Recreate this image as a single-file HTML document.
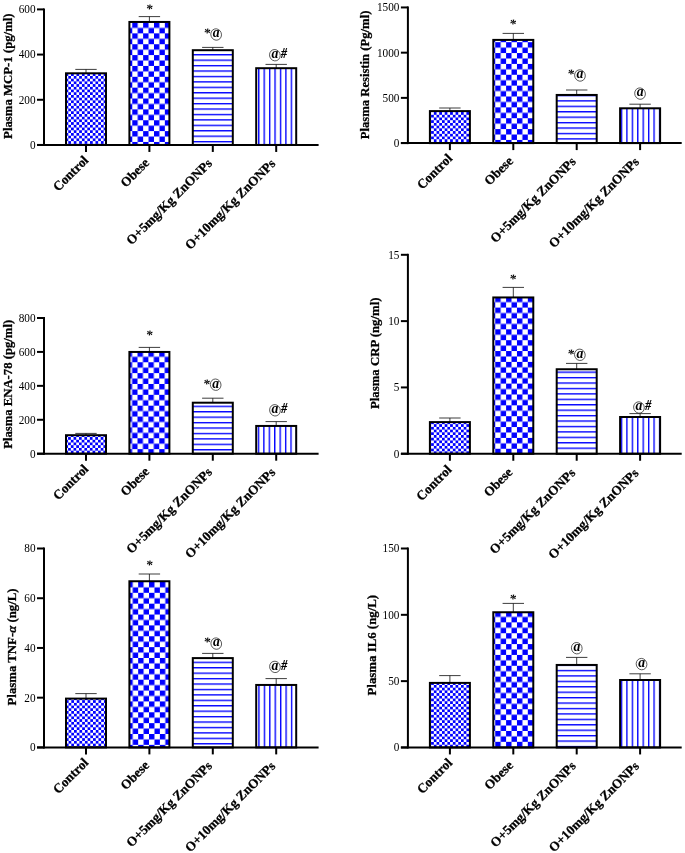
<!DOCTYPE html>
<html><head><meta charset="utf-8"><title>Figure</title>
<style>html,body{margin:0;padding:0;background:#fff}svg{display:block;will-change:transform;font-family:"Liberation Serif",serif;fill:#000}</style></head>
<body>
<svg width="685" height="853" viewBox="0 0 685 853">
<defs><pattern id="p0_0" patternUnits="userSpaceOnUse" x="65.6" y="73.26" width="5.43" height="5.43"><rect width="5.43" height="5.43" fill="#fff"/><rect width="2.71" height="2.71" fill="#00f"/><rect x="2.71" y="2.71" width="2.71" height="2.71" fill="#00f"/></pattern><pattern id="p0_1" patternUnits="userSpaceOnUse" x="132.27" y="22.5" width="10.86" height="10.86"><rect width="10.86" height="10.86" fill="#fff"/><rect width="5.43" height="5.43" fill="#00f"/><rect x="5.43" y="5.43" width="5.43" height="5.43" fill="#00f"/></pattern><pattern id="p0_2" patternUnits="userSpaceOnUse" x="0" y="54.08" width="5.43" height="5.43"><rect width="5.43" height="5.43" fill="#fff"/><rect width="5.43" height="1.36" fill="#00f"/></pattern><pattern id="p0_3" patternUnits="userSpaceOnUse" x="258.09" y="0" width="5.43" height="5.43"><rect width="5.43" height="5.43" fill="#fff"/><rect width="1.36" height="5.43" fill="#00f"/></pattern><pattern id="p1_0" patternUnits="userSpaceOnUse" x="428.39" y="112.08" width="5.43" height="5.43"><rect width="5.43" height="5.43" fill="#fff"/><rect width="2.71" height="2.71" fill="#00f"/><rect x="2.71" y="2.71" width="2.71" height="2.71" fill="#00f"/></pattern><pattern id="p1_1" patternUnits="userSpaceOnUse" x="495.24" y="42.2" width="10.86" height="10.86"><rect width="10.86" height="10.86" fill="#fff"/><rect width="5.43" height="5.43" fill="#00f"/><rect x="5.43" y="5.43" width="5.43" height="5.43" fill="#00f"/></pattern><pattern id="p1_2" patternUnits="userSpaceOnUse" x="0" y="100.23" width="5.43" height="5.43"><rect width="5.43" height="5.43" fill="#fff"/><rect width="5.43" height="1.36" fill="#00f"/></pattern><pattern id="p1_3" patternUnits="userSpaceOnUse" x="620.82" y="0" width="5.43" height="5.43"><rect width="5.43" height="5.43" fill="#fff"/><rect width="1.36" height="5.43" fill="#00f"/></pattern><pattern id="p2_0" patternUnits="userSpaceOnUse" x="68.1" y="437.06" width="5.43" height="5.43"><rect width="5.43" height="5.43" fill="#fff"/><rect width="2.71" height="2.71" fill="#00f"/><rect x="2.71" y="2.71" width="2.71" height="2.71" fill="#00f"/></pattern><pattern id="p2_1" patternUnits="userSpaceOnUse" x="137.51" y="351.39" width="10.86" height="10.86"><rect width="10.86" height="10.86" fill="#fff"/><rect width="5.43" height="5.43" fill="#00f"/><rect x="5.43" y="5.43" width="5.43" height="5.43" fill="#00f"/></pattern><pattern id="p2_2" patternUnits="userSpaceOnUse" x="0" y="405.65" width="5.43" height="5.43"><rect width="5.43" height="5.43" fill="#fff"/><rect width="5.43" height="1.36" fill="#00f"/></pattern><pattern id="p2_3" patternUnits="userSpaceOnUse" x="257.78" y="0" width="5.43" height="5.43"><rect width="5.43" height="5.43" fill="#fff"/><rect width="1.36" height="5.43" fill="#00f"/></pattern><pattern id="p3_0" patternUnits="userSpaceOnUse" x="428.39" y="424.17" width="5.43" height="5.43"><rect width="5.43" height="5.43" fill="#fff"/><rect width="2.71" height="2.71" fill="#00f"/><rect x="2.71" y="2.71" width="2.71" height="2.71" fill="#00f"/></pattern><pattern id="p3_1" patternUnits="userSpaceOnUse" x="495.24" y="296.74" width="10.86" height="10.86"><rect width="10.86" height="10.86" fill="#fff"/><rect width="5.43" height="5.43" fill="#00f"/><rect x="5.43" y="5.43" width="5.43" height="5.43" fill="#00f"/></pattern><pattern id="p3_2" patternUnits="userSpaceOnUse" x="0" y="371.51" width="5.43" height="5.43"><rect width="5.43" height="5.43" fill="#fff"/><rect width="5.43" height="1.36" fill="#00f"/></pattern><pattern id="p3_3" patternUnits="userSpaceOnUse" x="620.82" y="0" width="5.43" height="5.43"><rect width="5.43" height="5.43" fill="#fff"/><rect width="1.36" height="5.43" fill="#00f"/></pattern><pattern id="p4_0" patternUnits="userSpaceOnUse" x="65.88" y="700.17" width="5.43" height="5.43"><rect width="5.43" height="5.43" fill="#fff"/><rect width="2.71" height="2.71" fill="#00f"/><rect x="2.71" y="2.71" width="2.71" height="2.71" fill="#00f"/></pattern><pattern id="p4_1" patternUnits="userSpaceOnUse" x="138.16" y="581.96" width="10.86" height="10.86"><rect width="10.86" height="10.86" fill="#fff"/><rect width="5.43" height="5.43" fill="#00f"/><rect x="5.43" y="5.43" width="5.43" height="5.43" fill="#00f"/></pattern><pattern id="p4_2" patternUnits="userSpaceOnUse" x="0" y="661.65" width="5.43" height="5.43"><rect width="5.43" height="5.43" fill="#fff"/><rect width="5.43" height="1.36" fill="#00f"/></pattern><pattern id="p4_3" patternUnits="userSpaceOnUse" x="258.28" y="0" width="5.43" height="5.43"><rect width="5.43" height="5.43" fill="#fff"/><rect width="1.36" height="5.43" fill="#00f"/></pattern><pattern id="p5_0" patternUnits="userSpaceOnUse" x="428.39" y="684.97" width="5.43" height="5.43"><rect width="5.43" height="5.43" fill="#fff"/><rect width="2.71" height="2.71" fill="#00f"/><rect x="2.71" y="2.71" width="2.71" height="2.71" fill="#00f"/></pattern><pattern id="p5_1" patternUnits="userSpaceOnUse" x="495.24" y="611.5" width="10.86" height="10.86"><rect width="10.86" height="10.86" fill="#fff"/><rect width="5.43" height="5.43" fill="#00f"/><rect x="5.43" y="5.43" width="5.43" height="5.43" fill="#00f"/></pattern><pattern id="p5_2" patternUnits="userSpaceOnUse" x="0" y="669.83" width="5.43" height="5.43"><rect width="5.43" height="5.43" fill="#fff"/><rect width="5.43" height="1.36" fill="#00f"/></pattern><pattern id="p5_3" patternUnits="userSpaceOnUse" x="620.82" y="0" width="5.43" height="5.43"><rect width="5.43" height="5.43" fill="#fff"/><rect width="1.36" height="5.43" fill="#00f"/></pattern></defs>
<rect width="685" height="853" fill="#fff"/>
<path d="M75.3 69.4 H96.7 M86 69.4 V73.3" stroke="#1a1a1a" stroke-width="0.85" fill="none"/>
<rect x="66" y="73.3" width="40" height="71.65" fill="url(#p0_0)" stroke="#000" stroke-width="2"/>
<path d="M86 144.95 V151.95" stroke="#000" stroke-width="2"/>
<text transform="translate(89.14 161.05) rotate(-45)" font-size="13.2" font-weight="bold" text-anchor="end" stroke="#000" stroke-width="0.28" stroke-linejoin="round">Control</text>
<path d="M138.7 16.6 H160.1 M149.4 16.6 V21.95" stroke="#1a1a1a" stroke-width="0.85" fill="none"/>
<rect x="129.4" y="21.95" width="40" height="123" fill="url(#p0_1)" stroke="#000" stroke-width="2"/>
<text x="145.8" y="13" font-size="13.5" font-weight="bold" font-style="italic">*</text>
<path d="M149.4 144.95 V151.95" stroke="#000" stroke-width="2"/>
<text transform="translate(149.99 163.6) rotate(-45)" font-size="13.2" font-weight="bold" text-anchor="end" stroke="#000" stroke-width="0.28" stroke-linejoin="round">Obese</text>
<path d="M202.1 47.4 H223.5 M212.8 47.4 V50.2" stroke="#1a1a1a" stroke-width="0.85" fill="none"/>
<rect x="192.8" y="50.2" width="40" height="94.75" fill="url(#p0_2)" stroke="#000" stroke-width="2"/>
<text x="203.5" y="37.3" font-size="13.5" font-weight="bold" font-style="italic">*</text><ellipse cx="216.15" cy="34.5" rx="5.3" ry="5.75" fill="none" stroke="#2a2a2a" stroke-width="0.7" transform="rotate(-20 216.15 34.5)"/><text x="212.8" y="37.3" font-size="13.7" font-weight="bold" font-style="italic">a</text>
<path d="M212.8 144.95 V151.95" stroke="#000" stroke-width="2"/>
<text transform="translate(212.79 164.2) rotate(-45)" font-size="13.2" font-weight="bold" text-anchor="end" stroke="#000" stroke-width="0.28" stroke-linejoin="round">O+5mg/Kg ZnONPs</text>
<path d="M265.5 64.4 H286.9 M276.2 64.4 V68.2" stroke="#1a1a1a" stroke-width="0.85" fill="none"/>
<rect x="256.2" y="68.2" width="40" height="76.75" fill="url(#p0_3)" stroke="#000" stroke-width="2"/>
<ellipse cx="274.85" cy="55.2" rx="5.3" ry="5.75" fill="none" stroke="#2a2a2a" stroke-width="0.7" transform="rotate(-20 274.85 55.2)"/><text x="271.5" y="58" font-size="13.7" font-weight="bold" font-style="italic">a</text><text transform="translate(281.1 58) scale(0.88 1.04)" font-size="13.5" font-weight="bold" font-style="italic" stroke="#000" stroke-width="0.2">#</text>
<path d="M276.2 144.95 V151.95" stroke="#000" stroke-width="2"/>
<text transform="translate(276.02 164.37) rotate(-45)" font-size="13.2" font-weight="bold" text-anchor="end" stroke="#000" stroke-width="0.28" stroke-linejoin="round">O+10mg/Kg ZnONPs</text>
<path d="M44 8.4 V145.95" stroke="#000" stroke-width="2" fill="none"/>
<path d="M37 144.95 H318.6" stroke="#000" stroke-width="2" fill="none"/>
<path d="M37 144.95 H44" stroke="#000" stroke-width="2"/>
<text transform="translate(35.55 148.82) scale(0.9 1)" font-size="12.5" text-anchor="end">0</text>
<path d="M37 99.77 H44" stroke="#000" stroke-width="2"/>
<text transform="translate(35.55 103.64) scale(0.9 1)" font-size="12.5" text-anchor="end">200</text>
<path d="M37 54.58 H44" stroke="#000" stroke-width="2"/>
<text transform="translate(35.55 58.46) scale(0.9 1)" font-size="12.5" text-anchor="end">400</text>
<path d="M37 9.4 H44" stroke="#000" stroke-width="2"/>
<text transform="translate(35.55 13.28) scale(0.9 1)" font-size="12.5" text-anchor="end">600</text>
<text transform="translate(11.8 76.17) rotate(-90)" font-size="12.78" font-weight="bold" text-anchor="middle" stroke="#000" stroke-width="0.28" stroke-linejoin="round">Plasma MCP-1 (pg/ml)</text>
<path d="M439.2 108 H460.6 M449.9 108 V111.1" stroke="#1a1a1a" stroke-width="0.85" fill="none"/>
<rect x="429.9" y="111.1" width="40" height="32" fill="url(#p1_0)" stroke="#000" stroke-width="2"/>
<path d="M449.9 143.1 V150.1" stroke="#000" stroke-width="2"/>
<text transform="translate(453.04 159.2) rotate(-45)" font-size="13.2" font-weight="bold" text-anchor="end" stroke="#000" stroke-width="0.28" stroke-linejoin="round">Control</text>
<path d="M502.6 33.4 H524 M513.3 33.4 V39.9" stroke="#1a1a1a" stroke-width="0.85" fill="none"/>
<rect x="493.3" y="39.9" width="40" height="103.2" fill="url(#p1_1)" stroke="#000" stroke-width="2"/>
<text x="509.2" y="28.4" font-size="13.5" font-weight="bold" font-style="italic">*</text>
<path d="M513.3 143.1 V150.1" stroke="#000" stroke-width="2"/>
<text transform="translate(513.89 161.75) rotate(-45)" font-size="13.2" font-weight="bold" text-anchor="end" stroke="#000" stroke-width="0.28" stroke-linejoin="round">Obese</text>
<path d="M566 90 H587.4 M576.7 90 V94.95" stroke="#1a1a1a" stroke-width="0.85" fill="none"/>
<rect x="556.7" y="94.95" width="40" height="48.15" fill="url(#p1_2)" stroke="#000" stroke-width="2"/>
<text x="567.3" y="78.3" font-size="13.5" font-weight="bold" font-style="italic">*</text><ellipse cx="579.95" cy="75.5" rx="5.3" ry="5.75" fill="none" stroke="#2a2a2a" stroke-width="0.7" transform="rotate(-20 579.95 75.5)"/><text x="576.6" y="78.3" font-size="13.7" font-weight="bold" font-style="italic">a</text>
<path d="M576.7 143.1 V150.1" stroke="#000" stroke-width="2"/>
<text transform="translate(576.69 162.35) rotate(-45)" font-size="13.2" font-weight="bold" text-anchor="end" stroke="#000" stroke-width="0.28" stroke-linejoin="round">O+5mg/Kg ZnONPs</text>
<path d="M629.4 104.2 H650.8 M640.1 104.2 V108.3" stroke="#1a1a1a" stroke-width="0.85" fill="none"/>
<rect x="620.1" y="108.3" width="40" height="34.8" fill="url(#p1_3)" stroke="#000" stroke-width="2"/>
<ellipse cx="640.05" cy="93.6" rx="5.3" ry="5.75" fill="none" stroke="#2a2a2a" stroke-width="0.7" transform="rotate(-20 640.05 93.6)"/><text x="636.7" y="96.4" font-size="13.7" font-weight="bold" font-style="italic">a</text>
<path d="M640.1 143.1 V150.1" stroke="#000" stroke-width="2"/>
<text transform="translate(639.92 162.52) rotate(-45)" font-size="13.2" font-weight="bold" text-anchor="end" stroke="#000" stroke-width="0.28" stroke-linejoin="round">O+10mg/Kg ZnONPs</text>
<path d="M407.9 6.45 V144.1" stroke="#000" stroke-width="2" fill="none"/>
<path d="M400.9 143.1 H681.7" stroke="#000" stroke-width="2" fill="none"/>
<path d="M400.9 143.1 H407.9" stroke="#000" stroke-width="2"/>
<text transform="translate(399.45 146.97) scale(0.9 1)" font-size="12.5" text-anchor="end">0</text>
<path d="M400.9 97.88 H407.9" stroke="#000" stroke-width="2"/>
<text transform="translate(399.45 101.76) scale(0.9 1)" font-size="12.5" text-anchor="end">500</text>
<path d="M400.9 52.67 H407.9" stroke="#000" stroke-width="2"/>
<text transform="translate(399.45 56.54) scale(0.9 1)" font-size="12.5" text-anchor="end">1000</text>
<path d="M400.9 7.45 H407.9" stroke="#000" stroke-width="2"/>
<text transform="translate(399.45 11.32) scale(0.9 1)" font-size="12.5" text-anchor="end">1500</text>
<text transform="translate(368.8 74.97) rotate(-90)" font-size="12.66" font-weight="bold" text-anchor="middle" stroke="#000" stroke-width="0.28" stroke-linejoin="round">Plasma Resistin (Pg/ml)</text>
<path d="M75.3 433.4 H96.7 M86 433.4 V435.2" stroke="#1a1a1a" stroke-width="0.85" fill="none"/>
<rect x="66" y="435.2" width="40" height="18.5" fill="url(#p2_0)" stroke="#000" stroke-width="2"/>
<path d="M86 453.7 V460.7" stroke="#000" stroke-width="2"/>
<text transform="translate(89.14 469.8) rotate(-45)" font-size="13.2" font-weight="bold" text-anchor="end" stroke="#000" stroke-width="0.28" stroke-linejoin="round">Control</text>
<path d="M138.7 347.4 H160.1 M149.4 347.4 V351.95" stroke="#1a1a1a" stroke-width="0.85" fill="none"/>
<rect x="129.4" y="351.95" width="40" height="101.75" fill="url(#p2_1)" stroke="#000" stroke-width="2"/>
<text x="145.8" y="338.6" font-size="13.5" font-weight="bold" font-style="italic">*</text>
<path d="M149.4 453.7 V460.7" stroke="#000" stroke-width="2"/>
<text transform="translate(149.99 472.35) rotate(-45)" font-size="13.2" font-weight="bold" text-anchor="end" stroke="#000" stroke-width="0.28" stroke-linejoin="round">Obese</text>
<path d="M202.1 398.2 H223.5 M212.8 398.2 V402.7" stroke="#1a1a1a" stroke-width="0.85" fill="none"/>
<rect x="192.8" y="402.7" width="40" height="51" fill="url(#p2_2)" stroke="#000" stroke-width="2"/>
<text x="203" y="387.5" font-size="13.5" font-weight="bold" font-style="italic">*</text><ellipse cx="215.65" cy="384.7" rx="5.3" ry="5.75" fill="none" stroke="#2a2a2a" stroke-width="0.7" transform="rotate(-20 215.65 384.7)"/><text x="212.3" y="387.5" font-size="13.7" font-weight="bold" font-style="italic">a</text>
<path d="M212.8 453.7 V460.7" stroke="#000" stroke-width="2"/>
<text transform="translate(212.79 472.95) rotate(-45)" font-size="13.2" font-weight="bold" text-anchor="end" stroke="#000" stroke-width="0.28" stroke-linejoin="round">O+5mg/Kg ZnONPs</text>
<path d="M265.5 421.6 H286.9 M276.2 421.6 V425.95" stroke="#1a1a1a" stroke-width="0.85" fill="none"/>
<rect x="256.2" y="425.95" width="40" height="27.75" fill="url(#p2_3)" stroke="#000" stroke-width="2"/>
<ellipse cx="274.95" cy="410.3" rx="5.3" ry="5.75" fill="none" stroke="#2a2a2a" stroke-width="0.7" transform="rotate(-20 274.95 410.3)"/><text x="271.6" y="413.1" font-size="13.7" font-weight="bold" font-style="italic">a</text><text transform="translate(281.2 413.1) scale(0.88 1.04)" font-size="13.5" font-weight="bold" font-style="italic" stroke="#000" stroke-width="0.2">#</text>
<path d="M276.2 453.7 V460.7" stroke="#000" stroke-width="2"/>
<text transform="translate(276.02 473.12) rotate(-45)" font-size="13.2" font-weight="bold" text-anchor="end" stroke="#000" stroke-width="0.28" stroke-linejoin="round">O+10mg/Kg ZnONPs</text>
<path d="M44 317 V454.7" stroke="#000" stroke-width="2" fill="none"/>
<path d="M37 453.7 H318.6" stroke="#000" stroke-width="2" fill="none"/>
<path d="M37 453.7 H44" stroke="#000" stroke-width="2"/>
<text transform="translate(35.55 457.57) scale(0.9 1)" font-size="12.5" text-anchor="end">0</text>
<path d="M37 419.77 H44" stroke="#000" stroke-width="2"/>
<text transform="translate(35.55 423.65) scale(0.9 1)" font-size="12.5" text-anchor="end">200</text>
<path d="M37 385.85 H44" stroke="#000" stroke-width="2"/>
<text transform="translate(35.55 389.73) scale(0.9 1)" font-size="12.5" text-anchor="end">400</text>
<path d="M37 351.92 H44" stroke="#000" stroke-width="2"/>
<text transform="translate(35.55 355.8) scale(0.9 1)" font-size="12.5" text-anchor="end">600</text>
<path d="M37 318 H44" stroke="#000" stroke-width="2"/>
<text transform="translate(35.55 321.88) scale(0.9 1)" font-size="12.5" text-anchor="end">800</text>
<text transform="translate(11.8 384.35) rotate(-90)" font-size="12.7" font-weight="bold" text-anchor="middle" stroke="#000" stroke-width="0.28" stroke-linejoin="round">Plasma ENA-78 (pg/ml)</text>
<path d="M439.2 418 H460.6 M449.9 418 V422.1" stroke="#1a1a1a" stroke-width="0.85" fill="none"/>
<rect x="429.9" y="422.1" width="40" height="31.65" fill="url(#p3_0)" stroke="#000" stroke-width="2"/>
<path d="M449.9 453.75 V460.75" stroke="#000" stroke-width="2"/>
<text transform="translate(452.4 470.49) rotate(-45)" font-size="13.2" font-weight="bold" text-anchor="end" stroke="#000" stroke-width="0.28" stroke-linejoin="round">Control</text>
<path d="M502.6 287.4 H524 M513.3 287.4 V297.45" stroke="#1a1a1a" stroke-width="0.85" fill="none"/>
<rect x="493.3" y="297.45" width="40" height="156.3" fill="url(#p3_1)" stroke="#000" stroke-width="2"/>
<text x="509.3" y="283.2" font-size="13.5" font-weight="bold" font-style="italic">*</text>
<path d="M513.3 453.75 V460.75" stroke="#000" stroke-width="2"/>
<text transform="translate(513.26 473.03) rotate(-45)" font-size="13.2" font-weight="bold" text-anchor="end" stroke="#000" stroke-width="0.28" stroke-linejoin="round">Obese</text>
<path d="M566 363.4 H587.4 M576.7 363.4 V369.25" stroke="#1a1a1a" stroke-width="0.85" fill="none"/>
<rect x="556.7" y="369.25" width="40" height="84.5" fill="url(#p3_2)" stroke="#000" stroke-width="2"/>
<text x="567.2" y="357.6" font-size="13.5" font-weight="bold" font-style="italic">*</text><ellipse cx="579.85" cy="354.8" rx="5.3" ry="5.75" fill="none" stroke="#2a2a2a" stroke-width="0.7" transform="rotate(-20 579.85 354.8)"/><text x="576.5" y="357.6" font-size="13.7" font-weight="bold" font-style="italic">a</text>
<path d="M576.7 453.75 V460.75" stroke="#000" stroke-width="2"/>
<text transform="translate(576.06 473.63) rotate(-45)" font-size="13.2" font-weight="bold" text-anchor="end" stroke="#000" stroke-width="0.28" stroke-linejoin="round">O+5mg/Kg ZnONPs</text>
<path d="M629.4 413.6 H650.8 M640.1 413.6 V417" stroke="#1a1a1a" stroke-width="0.85" fill="none"/>
<rect x="620.1" y="417" width="40" height="36.75" fill="url(#p3_3)" stroke="#000" stroke-width="2"/>
<ellipse cx="638.95" cy="407.5" rx="5.3" ry="5.75" fill="none" stroke="#2a2a2a" stroke-width="0.7" transform="rotate(-20 638.95 407.5)"/><text x="635.6" y="410.3" font-size="13.7" font-weight="bold" font-style="italic">a</text><text transform="translate(645.2 410.3) scale(0.88 1.04)" font-size="13.5" font-weight="bold" font-style="italic" stroke="#000" stroke-width="0.2">#</text>
<path d="M640.1 453.75 V460.75" stroke="#000" stroke-width="2"/>
<text transform="translate(639.28 473.81) rotate(-45)" font-size="13.2" font-weight="bold" text-anchor="end" stroke="#000" stroke-width="0.28" stroke-linejoin="round">O+10mg/Kg ZnONPs</text>
<path d="M407.9 253.8 V454.75" stroke="#000" stroke-width="2" fill="none"/>
<path d="M400.9 453.75 H681.7" stroke="#000" stroke-width="2" fill="none"/>
<path d="M400.9 453.75 H407.9" stroke="#000" stroke-width="2"/>
<text transform="translate(399.45 457.62) scale(0.9 1)" font-size="12.5" text-anchor="end">0</text>
<path d="M400.9 387.43 H407.9" stroke="#000" stroke-width="2"/>
<text transform="translate(399.45 391.31) scale(0.9 1)" font-size="12.5" text-anchor="end">5</text>
<path d="M400.9 321.12 H407.9" stroke="#000" stroke-width="2"/>
<text transform="translate(399.45 324.99) scale(0.9 1)" font-size="12.5" text-anchor="end">10</text>
<path d="M400.9 254.8 H407.9" stroke="#000" stroke-width="2"/>
<text transform="translate(399.45 258.68) scale(0.9 1)" font-size="12.5" text-anchor="end">15</text>
<text transform="translate(378.6 353.27) rotate(-90)" font-size="12.8" font-weight="bold" text-anchor="middle" stroke="#000" stroke-width="0.28" stroke-linejoin="round">Plasma CRP (ng/ml)</text>
<path d="M75.3 693.6 H96.7 M86 693.6 V698.6" stroke="#1a1a1a" stroke-width="0.85" fill="none"/>
<rect x="66" y="698.6" width="40" height="48.8" fill="url(#p4_0)" stroke="#000" stroke-width="2"/>
<path d="M86 747.4 V754.4" stroke="#000" stroke-width="2"/>
<text transform="translate(89.14 763.5) rotate(-45)" font-size="13.2" font-weight="bold" text-anchor="end" stroke="#000" stroke-width="0.28" stroke-linejoin="round">Control</text>
<path d="M138.7 574 H160.1 M149.4 574 V581.25" stroke="#1a1a1a" stroke-width="0.85" fill="none"/>
<rect x="129.4" y="581.25" width="40" height="166.15" fill="url(#p4_1)" stroke="#000" stroke-width="2"/>
<text x="145.8" y="568.6" font-size="13.5" font-weight="bold" font-style="italic">*</text>
<path d="M149.4 747.4 V754.4" stroke="#000" stroke-width="2"/>
<text transform="translate(149.99 766.05) rotate(-45)" font-size="13.2" font-weight="bold" text-anchor="end" stroke="#000" stroke-width="0.28" stroke-linejoin="round">Obese</text>
<path d="M202.1 653.4 H223.5 M212.8 653.4 V658.1" stroke="#1a1a1a" stroke-width="0.85" fill="none"/>
<rect x="192.8" y="658.1" width="40" height="89.3" fill="url(#p4_2)" stroke="#000" stroke-width="2"/>
<text x="203.6" y="646.4" font-size="13.5" font-weight="bold" font-style="italic">*</text><ellipse cx="216.25" cy="643.6" rx="5.3" ry="5.75" fill="none" stroke="#2a2a2a" stroke-width="0.7" transform="rotate(-20 216.25 643.6)"/><text x="212.9" y="646.4" font-size="13.7" font-weight="bold" font-style="italic">a</text>
<path d="M212.8 747.4 V754.4" stroke="#000" stroke-width="2"/>
<text transform="translate(212.79 766.65) rotate(-45)" font-size="13.2" font-weight="bold" text-anchor="end" stroke="#000" stroke-width="0.28" stroke-linejoin="round">O+5mg/Kg ZnONPs</text>
<path d="M265.5 678.6 H286.9 M276.2 678.6 V684.95" stroke="#1a1a1a" stroke-width="0.85" fill="none"/>
<rect x="256.2" y="684.95" width="40" height="62.45" fill="url(#p4_3)" stroke="#000" stroke-width="2"/>
<ellipse cx="274.95" cy="666.9" rx="5.3" ry="5.75" fill="none" stroke="#2a2a2a" stroke-width="0.7" transform="rotate(-20 274.95 666.9)"/><text x="271.6" y="669.7" font-size="13.7" font-weight="bold" font-style="italic">a</text><text transform="translate(281.2 669.7) scale(0.88 1.04)" font-size="13.5" font-weight="bold" font-style="italic" stroke="#000" stroke-width="0.2">#</text>
<path d="M276.2 747.4 V754.4" stroke="#000" stroke-width="2"/>
<text transform="translate(276.02 766.82) rotate(-45)" font-size="13.2" font-weight="bold" text-anchor="end" stroke="#000" stroke-width="0.28" stroke-linejoin="round">O+10mg/Kg ZnONPs</text>
<path d="M44 547.5 V748.4" stroke="#000" stroke-width="2" fill="none"/>
<path d="M37 747.4 H318.6" stroke="#000" stroke-width="2" fill="none"/>
<path d="M37 747.4 H44" stroke="#000" stroke-width="2"/>
<text transform="translate(35.55 751.27) scale(0.9 1)" font-size="12.5" text-anchor="end">0</text>
<path d="M37 697.67 H44" stroke="#000" stroke-width="2"/>
<text transform="translate(35.55 701.55) scale(0.9 1)" font-size="12.5" text-anchor="end">20</text>
<path d="M37 647.95 H44" stroke="#000" stroke-width="2"/>
<text transform="translate(35.55 651.83) scale(0.9 1)" font-size="12.5" text-anchor="end">40</text>
<path d="M37 598.23 H44" stroke="#000" stroke-width="2"/>
<text transform="translate(35.55 602.1) scale(0.9 1)" font-size="12.5" text-anchor="end">60</text>
<path d="M37 548.5 H44" stroke="#000" stroke-width="2"/>
<text transform="translate(35.55 552.38) scale(0.9 1)" font-size="12.5" text-anchor="end">80</text>
<text transform="translate(15.5 646.95) rotate(-90)" font-size="12.8" font-weight="bold" text-anchor="middle" stroke="#000" stroke-width="0.28" stroke-linejoin="round">Plasma TNF-<tspan font-style="italic">α</tspan> (ng/L)</text>
<path d="M439.2 675.6 H460.6 M449.9 675.6 V682.9" stroke="#1a1a1a" stroke-width="0.85" fill="none"/>
<rect x="429.9" y="682.9" width="40" height="64.55" fill="url(#p5_0)" stroke="#000" stroke-width="2"/>
<path d="M449.9 747.45 V754.45" stroke="#000" stroke-width="2"/>
<text transform="translate(453.04 763.55) rotate(-45)" font-size="13.2" font-weight="bold" text-anchor="end" stroke="#000" stroke-width="0.28" stroke-linejoin="round">Control</text>
<path d="M502.6 603.4 H524 M513.3 603.4 V612.25" stroke="#1a1a1a" stroke-width="0.85" fill="none"/>
<rect x="493.3" y="612.25" width="40" height="135.2" fill="url(#p5_1)" stroke="#000" stroke-width="2"/>
<text x="509.3" y="603" font-size="13.5" font-weight="bold" font-style="italic">*</text>
<path d="M513.3 747.45 V754.45" stroke="#000" stroke-width="2"/>
<text transform="translate(513.89 766.1) rotate(-45)" font-size="13.2" font-weight="bold" text-anchor="end" stroke="#000" stroke-width="0.28" stroke-linejoin="round">Obese</text>
<path d="M566 657.4 H587.4 M576.7 657.4 V664.95" stroke="#1a1a1a" stroke-width="0.85" fill="none"/>
<rect x="556.7" y="664.95" width="40" height="82.5" fill="url(#p5_2)" stroke="#000" stroke-width="2"/>
<ellipse cx="576.75" cy="648.2" rx="5.3" ry="5.75" fill="none" stroke="#2a2a2a" stroke-width="0.7" transform="rotate(-20 576.75 648.2)"/><text x="573.4" y="651" font-size="13.7" font-weight="bold" font-style="italic">a</text>
<path d="M576.7 747.45 V754.45" stroke="#000" stroke-width="2"/>
<text transform="translate(576.69 766.7) rotate(-45)" font-size="13.2" font-weight="bold" text-anchor="end" stroke="#000" stroke-width="0.28" stroke-linejoin="round">O+5mg/Kg ZnONPs</text>
<path d="M629.4 673.8 H650.8 M640.1 673.8 V680" stroke="#1a1a1a" stroke-width="0.85" fill="none"/>
<rect x="620.1" y="680" width="40" height="67.45" fill="url(#p5_3)" stroke="#000" stroke-width="2"/>
<ellipse cx="641.55" cy="664.1" rx="5.3" ry="5.75" fill="none" stroke="#2a2a2a" stroke-width="0.7" transform="rotate(-20 641.55 664.1)"/><text x="638.2" y="666.9" font-size="13.7" font-weight="bold" font-style="italic">a</text>
<path d="M640.1 747.45 V754.45" stroke="#000" stroke-width="2"/>
<text transform="translate(639.92 766.87) rotate(-45)" font-size="13.2" font-weight="bold" text-anchor="end" stroke="#000" stroke-width="0.28" stroke-linejoin="round">O+10mg/Kg ZnONPs</text>
<path d="M407.9 547.5 V748.45" stroke="#000" stroke-width="2" fill="none"/>
<path d="M400.9 747.45 H681.7" stroke="#000" stroke-width="2" fill="none"/>
<path d="M400.9 747.45 H407.9" stroke="#000" stroke-width="2"/>
<text transform="translate(399.45 751.33) scale(0.9 1)" font-size="12.5" text-anchor="end">0</text>
<path d="M400.9 681.13 H407.9" stroke="#000" stroke-width="2"/>
<text transform="translate(399.45 685.01) scale(0.9 1)" font-size="12.5" text-anchor="end">50</text>
<path d="M400.9 614.82 H407.9" stroke="#000" stroke-width="2"/>
<text transform="translate(399.45 618.69) scale(0.9 1)" font-size="12.5" text-anchor="end">100</text>
<path d="M400.9 548.5 H407.9" stroke="#000" stroke-width="2"/>
<text transform="translate(399.45 552.38) scale(0.9 1)" font-size="12.5" text-anchor="end">150</text>
<text transform="translate(375.5 645.18) rotate(-90)" font-size="12.85" font-weight="bold" text-anchor="middle" stroke="#000" stroke-width="0.28" stroke-linejoin="round">Plasma IL6 (ng/L)</text>
</svg>
</body></html>
